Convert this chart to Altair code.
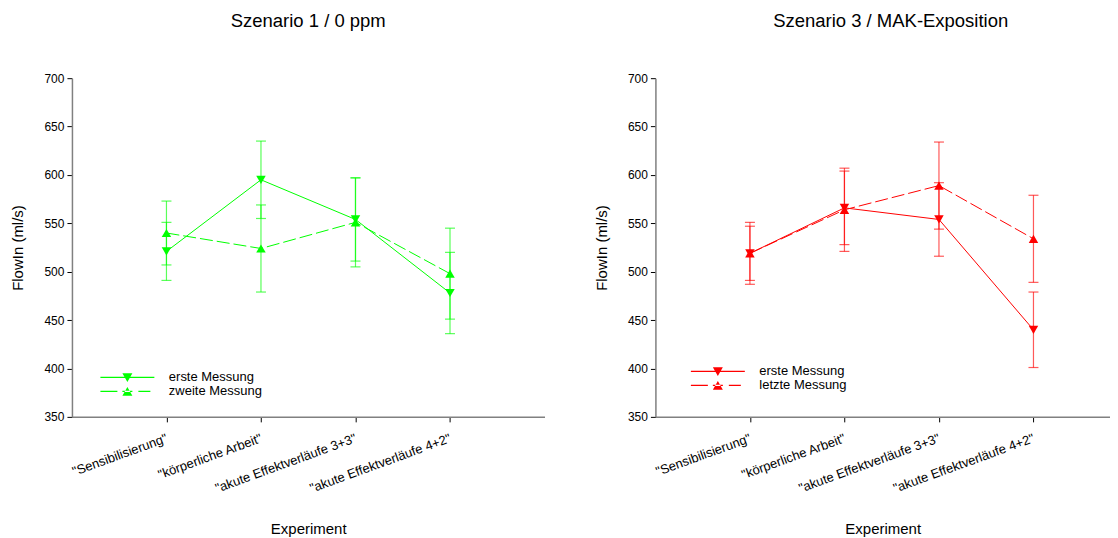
import json
import altair as alt
import pandas as pd

# ---------------- data ----------------
experiments = ['"Sensibilisierung"', '"körperliche Arbeit"',
               '"akute Effektverläufe 3+3"', '"akute Effektverläufe 4+2"']
exp_index = [1, 2, 3, 4]

s1_names = ["erste Messung", "zweite Messung"]
s1_erste_mean = [521, 595, 554, 478]
s1_erste_err = [30, 40, 43, 42]
s1_zweite_mean = [540, 524, 551, 498]
s1_zweite_err = [33, 45, 46, 47]

s3_names = ["erste Messung", "letzte Messung"]
s3_erste_mean = [519, 566, 554, 440]
s3_erste_err = [28, 38, 38, 39]
s3_letzte_mean = [519, 564, 589, 534]
s3_letzte_err = [32, 43, 45, 45]

y_ticks = [350, 400, 450, 500, 550, 600, 650, 700]

FONT = "Liberation Sans"
GREEN = "#00ff00"
RED = "#ff0000"

# legend symbols (line drawn as thin filled bars + triangle), symbol size 100 -> 5px per unit
PATH_SOLID_DOWN = "M-5.4,-0.12H5.4V0.12H-5.4Z M-1,-0.85L1,-0.85L0,0.9Z"
PATH_DASH_UP = ("M-5.4,-0.12H-2V0.12H-5.4Z M-1,-0.12H1V0.12H-1Z "
                "M2.2,-0.12H4.6V0.12H2.2Z M-1,0.85L1,0.85L0,-0.9Z")


def make_df(names, means, errs):
    rows = []
    for name, m, e in zip(names, means, errs):
        for i, mv, ev in zip(exp_index, m, e):
            rows.append({"idx": i, "series": name, "mean": mv,
                         "lo": mv - ev, "hi": mv + ev})
    return pd.DataFrame(rows)


label_expr = json.dumps(experiments, ensure_ascii=False) + "[datum.value - 1]"


def panel(df, names, color, title, width, xmax, lx, ly, title_dx):
    xaxis = alt.Axis(values=exp_index, labelExpr=label_expr, title="Experiment",
                     labelAngle=-20, labelAlign="right", labelBaseline="top",
                     labelOverlap=False, labelPadding=10, labelOffset=-2,
                     titlePadding=26, labelFontSize=13)
    yaxis = alt.Axis(values=y_ticks, title="FlowIn (ml/s)", titlePadding=18,
                     labelFontSize=12)
    xs = alt.Scale(domain=[0, xmax], nice=False, zero=False)
    ys = alt.Scale(domain=[350, 700], nice=False, zero=False)

    def X():
        return alt.X("idx:Q", scale=xs, axis=xaxis)

    def Y(f):
        return alt.Y(f, scale=ys, axis=yaxis)

    base = alt.Chart(df)
    s1 = base.transform_filter(alt.datum.series == names[0])
    s2 = base.transform_filter(alt.datum.series == names[1])

    rules = base.mark_rule(color=color, opacity=0.65, strokeWidth=1.2).encode(
        x=X(), y=Y("lo:Q"), y2="hi:Q")
    cap_lo = base.mark_tick(orient="horizontal", size=10, thickness=1.2,
                            color=color, opacity=0.65).encode(x=X(), y=Y("lo:Q"))
    cap_hi = base.mark_tick(orient="horizontal", size=10, thickness=1.2,
                            color=color, opacity=0.65).encode(x=X(), y=Y("hi:Q"))
    line1 = s1.mark_line(color=color, strokeWidth=1).encode(x=X(), y=Y("mean:Q"))
    line2 = s2.mark_line(color=color, strokeWidth=1, strokeDash=[13, 4]).encode(
        x=X(), y=Y("mean:Q"))
    pts1 = s1.mark_point(shape="triangle-down", filled=True, size=90, color=color,
                         opacity=1).encode(x=X(), y=Y("mean:Q"))
    pts2 = s2.mark_point(shape="triangle-up", filled=True, size=90, color=color,
                         opacity=1).encode(x=X(), y=Y("mean:Q"))
    # invisible layer that only carries the legend (line + marker symbols)
    leg = base.mark_point(filled=True, color=color, opacity=0, size=100).encode(
        x=X(), y=Y("mean:Q"),
        shape=alt.Shape("series:N",
                        scale=alt.Scale(domain=names, range=[PATH_SOLID_DOWN, PATH_DASH_UP]),
                        legend=alt.Legend(orient="none", legendX=lx, legendY=ly, title=None,
                                          labelFont=FONT, labelFontSize=13, labelColor="#000",
                                          symbolSize=100, labelOffset=35, padding=0,
                                          rowPadding=0, symbolStrokeWidth=0,
                                          symbolFillColor=color, symbolOpacity=1)))
    return alt.layer(rules, cap_lo, cap_hi, line1, line2, pts1, pts2, leg).properties(
        width=width, height=339,
        title=alt.TitleParams(title, font=FONT, fontSize=18.5, fontWeight="normal",
                              anchor="middle", offset=42, dx=title_dx, color="#000"))


left = panel(make_df(s1_names, [s1_erste_mean, s1_zweite_mean], [s1_erste_err, s1_zweite_err]),
             s1_names, GREEN, "Szenario 1 / 0 ppm", 473, 5.0, 49, 293, 0)
right = panel(make_df(s3_names, [s3_erste_mean, s3_letzte_mean], [s3_erste_err, s3_letzte_err]),
              s3_names, RED, "Szenario 3 / MAK-Exposition", 455, 455 / 94.6, 56, 287, 8)

chart = alt.hconcat(left, right, spacing=49).resolve_scale(
    x="independent", y="independent", shape="independent"
).resolve_legend(shape="independent").properties(
    padding={"left": 2, "top": 3, "right": 0, "bottom": 0},
    background="white",
).configure_view(stroke=None).configure_axis(
    grid=False, domainColor="#808080", domainWidth=1.5, tickColor="#000", tickSize=5,
    labelFont=FONT, labelColor="#000", labelPadding=3,
    titleFont=FONT, titleFontSize=15, titleFontWeight="normal", titleColor="#000",
)

chart.save("out.html", embed_options={"renderer": "svg", "actions": False})
